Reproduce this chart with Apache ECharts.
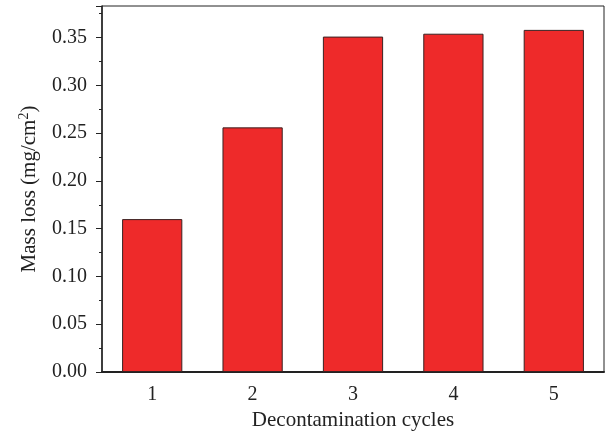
<!DOCTYPE html>
<html>
<head>
<meta charset="utf-8">
<script src="https://cdn.jsdelivr.net/npm/echarts@6/dist/echarts.min.js"></script>
<style>
  html, body { margin: 0; padding: 0; background: #fff; }
  #chart { width: 608px; height: 436px; }
</style>
</head>
<body>
<div id="chart"></div>
<script>
var cycles = ['1', '2', '3', '4', '5'];
var massLoss = [0.160, 0.256, 0.351, 0.354, 0.358];

var font = '"Liberation Serif", "DejaVu Serif", serif';
var chart = echarts.init(document.getElementById('chart'));

chart.setOption({
    animation: false,
    textStyle: { fontFamily: font },
    grid: {
        left: 102, right: 4, top: 6, bottom: 62,
        show: true, borderColor: '#222', borderWidth: 1
    },
    xAxis: {
        type: 'category',
        data: cycles,
        name: 'Decontamination cycles',
        nameLocation: 'middle',
        nameGap: 38,
        nameTextStyle: { fontFamily: font, fontSize: 21, color: '#222' },
        axisLine: { lineStyle: { color: '#222', width: 2 } },
        axisTick: { alignWithLabel: true, length: 6, lineStyle: { color: '#222' } },
        axisLabel: { fontFamily: font, fontSize: 20, color: '#222', margin: 13 }
    },
    yAxis: {
        type: 'value',
        min: 0,
        max: 0.383,
        interval: 0.05,
        name: 'Mass loss (mg/cm{sup|2})',
        nameLocation: 'middle',
        nameGap: 61,
        nameTextStyle: {
            fontFamily: font, fontSize: 21, color: '#222',
            rich: { sup: { fontFamily: font, fontSize: 14, color: '#222', verticalAlign: 'top', padding: [0, 0, 10, 0] } }
        },
        splitLine: { show: false },
        axisLine: { show: true, lineStyle: { color: '#222', width: 1.5 } },
        axisTick: { show: true, length: 6, lineStyle: { color: '#222' } },
        minorTick: { show: true, splitNumber: 2, length: 3, lineStyle: { color: '#222' } },
        axisLabel: {
            fontFamily: font, fontSize: 20, color: '#222', margin: 15,
            showMaxLabel: false,
            formatter: function (v) { return v.toFixed(2); }
        }
    },
    series: [{
        type: 'bar',
        data: massLoss,
        barWidth: '60%',
        itemStyle: { color: '#EE2A2A', borderColor: '#3a2222', borderWidth: 1 }
    }]
});
</script>
</body>
</html>
